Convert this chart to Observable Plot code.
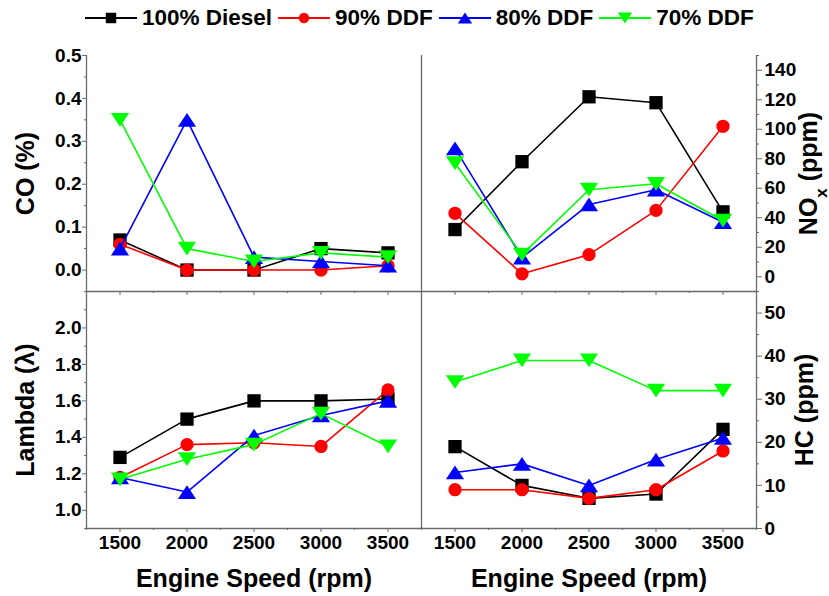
<!DOCTYPE html>
<html>
<head>
<meta charset="utf-8">
<script src="https://cdn.jsdelivr.net/npm/d3@7"></script>
<script src="https://cdn.jsdelivr.net/npm/@observablehq/plot@0.6"></script>
<style>
  html, body { margin: 0; padding: 0; background: #fff; overflow: hidden; }
  #chart { position: relative; width: 829px; height: 596px; font-family: "Liberation Sans", Arial, sans-serif; }
  #chart svg.panel { position: absolute; left: 0; top: 0; }
  #legend { position: absolute; left: 85px; top: 7px; display: flex; align-items: center; height: 22px; font-weight: bold; font-size: 22.5px; color: #000; white-space: nowrap; }
  #legend .item { display: flex; align-items: center; }
  #legend .item span { margin-left: 5px; margin-right: 6px; line-height: 22px; }
</style>
</head>
<body>
<div id="chart"><div id="legend"></div></div>
<script>
// ---------- data ----------
const xDomain = [1250, 3750];
const speeds = [1500, 2000, 2500, 3000, 3500];
const xTicks = [1500, 2000, 2500, 3000, 3500];
const xMinorTicks = [1250, 1750, 2250, 2750, 3250, 3750];

const seriesNames = ["100% Diesel", "90% DDF", "80% DDF", "70% DDF"];
const seriesColors = ["#000000", "#ff0000", "#0000ff", "#00ff00"];

// rows: 100% Diesel, 90% DDF, 80% DDF, 70% DDF ; columns: speeds
const coValues = [
  [0.07, 0.00, 0.00, 0.05, 0.04],
  [0.06, 0.00, 0.00, 0.00, 0.01],
  [0.05, 0.35, 0.03, 0.02, 0.01],
  [0.35, 0.05, 0.02, 0.04, 0.03]
];
const noxValues = [
  [32, 78, 122, 118, 44],
  [43, 2, 15, 45, 102],
  [87, 13, 49, 59, 37],
  [77, 15, 59, 63, 38]
];
const lambdaValues = [
  [1.29, 1.50, 1.60, 1.60, 1.61],
  [1.18, 1.36, 1.37, 1.35, 1.66],
  [1.18, 1.10, 1.41, 1.52, 1.60],
  [1.17, 1.28, 1.36, 1.53, 1.35]
];
const hcValues = [
  [19, 10, 7, 8, 23],
  [9, 9, 7, 9, 18],
  [13, 15, 10, 16, 21],
  [34, 39, 39, 32, 32]
];

const coTicks = [0, 0.1, 0.2, 0.3, 0.4, 0.5];
const coMinorTicks = [-0.05, 0.05, 0.15, 0.25, 0.35, 0.45];
const noxTicks = [0, 20, 40, 60, 80, 100, 120, 140];
const noxMinorTicks = [-10, 10, 30, 50, 70, 90, 110, 130, 150];
const lambdaTicks = [1.0, 1.2, 1.4, 1.6, 1.8, 2.0];
const lambdaMinorTicks = [0.9, 1.1, 1.3, 1.5, 1.7, 1.9, 2.1];
const hcTicks = [0, 10, 20, 30, 40, 50];
const hcMinorTicks = [5, 15, 25, 35, 45, 55];

// ---------- symbols ----------
const symSquare = { draw(ctx, size) { const r = Math.sqrt(size / Math.PI), h = 0.95 * r;
  ctx.moveTo(-h, -h); ctx.lineTo(h, -h); ctx.lineTo(h, h); ctx.lineTo(-h, h); ctx.closePath(); } };
const symCircle = { draw(ctx, size) { const r = 0.95 * Math.sqrt(size / Math.PI);
  ctx.moveTo(r, 0); ctx.arc(0, 0, r, 0, 2 * Math.PI); } };
const symTriUp = { draw(ctx, size) { const r = Math.sqrt(size / Math.PI), w = 1.3 * r, h = 0.98 * r;
  ctx.moveTo(0, -h); ctx.lineTo(w, h); ctx.lineTo(-w, h); ctx.closePath(); } };
const symTriDown = { draw(ctx, size) { const r = Math.sqrt(size / Math.PI), w = 1.3 * r, h = 0.98 * r;
  ctx.moveTo(0, h); ctx.lineTo(w, -h); ctx.lineTo(-w, -h); ctx.closePath(); } };
const seriesSymbols = [symSquare, symCircle, symTriUp, symTriDown];

// ---------- layout ----------
const W = 829, H = 596;
const axisColor = "#6a6a6a";
const panels = [
  { values: coValues, yDomain: [-0.05, 0.5], yTicks: coTicks, yMinor: coMinorTicks, fmt: ".1f",
    side: "left", title: "CO (%)", titleDx: -61, top: 55, bottom: 291, left: 86, right: 421, xLabels: false },
  { values: noxValues, yDomain: [-10, 150], yTicks: noxTicks, yMinor: noxMinorTicks, fmt: "d",
    side: "right", title: "NOx (ppm)", titleDx: 52, top: 55, bottom: 291, left: 421, right: 756, xLabels: false },
  { values: lambdaValues, yDomain: [0.9, 2.2], yTicks: lambdaTicks, yMinor: lambdaMinorTicks, fmt: ".1f",
    side: "left", title: "Lambda (\u03bb)", titleDx: -61, top: 291, bottom: 528, left: 86, right: 421, xLabels: true },
  { values: hcValues, yDomain: [0, 55], yTicks: hcTicks, yMinor: hcMinorTicks, fmt: "d",
    side: "right", title: "HC (ppm)", titleDx: 48, top: 291, bottom: 528, left: 421, right: 756, xLabels: true }
];

const chart = document.getElementById("chart");

for (const p of panels) {
  const rows = seriesNames.flatMap((name, i) =>
    speeds.map((s, j) => ({ speed: s, value: p.values[i][j], series: name, k: i })));
  const left = p.side === "left";
  const marks = [
    Plot.ruleY([p.yDomain[0]], { stroke: axisColor, strokeWidth: 1.3 }),
    Plot.ruleX([left ? xDomain[0] : xDomain[1]], { stroke: axisColor, strokeWidth: 1.3 }),
  ];
  if (left) marks.push(Plot.ruleX([xDomain[1]], { stroke: axisColor, strokeWidth: 1.3 }));
  marks.push(
    Plot.axisX({ ticks: xMinorTicks, tickSize: 2, tickFormat: () => "", label: null, stroke: axisColor }),
    Plot.axisX({ ticks: xTicks, tickSize: 4, tickPadding: 3, tickFormat: p.xLabels ? "d" : () => "",
      label: null, stroke: axisColor, fill: "#000" }),
    Plot.axisY({ anchor: p.side, ticks: p.yMinor, tickSize: 2, tickFormat: () => "", label: null, stroke: axisColor }),
    Plot.axisY({ anchor: p.side, ticks: p.yTicks, tickSize: left ? 4 : 5, tickPadding: left ? 1 : 3,
      tickFormat: d3.format(p.fmt), label: null, stroke: axisColor, fill: "#000" })
  );
  seriesNames.forEach((name, i) => {
    const data = rows.filter(d => d.k === i);
    marks.push(
      Plot.line(data, { x: "speed", y: "value", stroke: seriesColors[i], strokeWidth: 1.6 }),
      Plot.dot(data, { x: "speed", y: "value", r: 7, symbol: seriesSymbols[i], fill: seriesColors[i], stroke: "none" })
    );
  });
  marks.push(Plot.text([p.title], { frameAnchor: p.side, dx: p.titleDx, rotate: -90, textAnchor: "middle",
    lineAnchor: "middle", fontSize: 25, fontWeight: "bold", fill: "#000" }));
  if (p.xLabels) {
    marks.push(Plot.text(["Engine Speed (rpm)"], { frameAnchor: "bottom", dy: 50, textAnchor: "middle",
      lineAnchor: "middle", fontSize: 25, fontWeight: "bold", fill: "#000" }));
  }
  const svg = Plot.plot({
    width: W, height: H,
    marginTop: p.top, marginBottom: H - p.bottom, marginLeft: p.left, marginRight: W - p.right,
    x: { domain: xDomain },
    y: { domain: p.yDomain },
    style: { background: "transparent", overflow: "visible", fontFamily: "'Liberation Sans', Arial, sans-serif",
      fontSize: "19px", fontWeight: "bold", color: "#000" },
    marks
  });
  svg.classList.add("panel");
  // subscript x in NOx label
  svg.querySelectorAll("text").forEach(t => {
    if (t.textContent === "NOx (ppm)") {
      t.innerHTML = 'NO<tspan baseline-shift="sub" font-size="17">x</tspan> (ppm)';
    }
  });
  chart.appendChild(svg);
}

// ---------- legend ----------
const legend = document.getElementById("legend");
chart.appendChild(legend);
seriesNames.forEach((name, i) => {
  const path = d3.path();
  seriesSymbols[i].draw(path, Math.PI * 5.5 * 5.5);
  const item = document.createElement("div");
  item.className = "item";
  item.innerHTML = `<svg width="52" height="22" viewBox="-26 -11 52 22"><line x1="-26" x2="26" y1="0" y2="0" stroke="${seriesColors[i]}" stroke-width="2"/><path d="${path.toString()}" fill="${seriesColors[i]}"/></svg><span>${name}</span>`;
  legend.appendChild(item);
});
</script>
</body>
</html>
